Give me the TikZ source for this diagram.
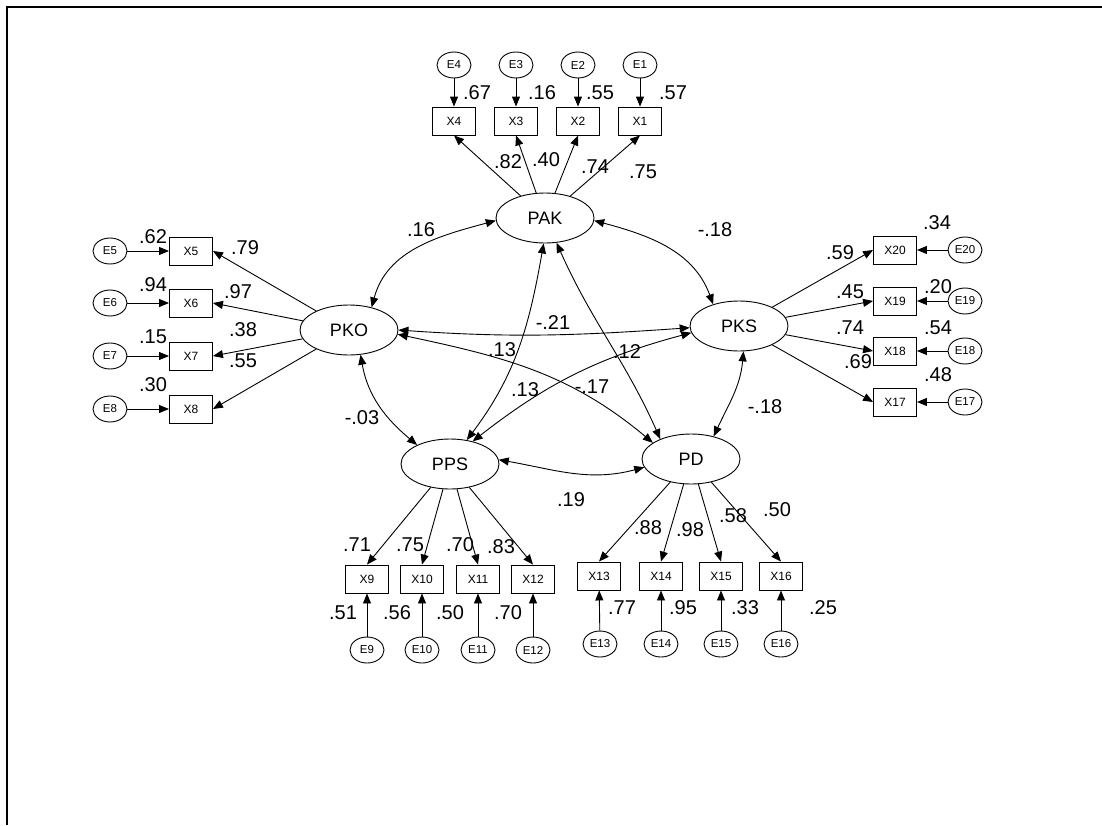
\documentclass[tikz,border=0pt]{standalone}
\usepackage{fontspec}
\setmainfont{Liberation Sans}
\usetikzlibrary{arrows.meta,shapes.geometric}
\begin{document}
\begin{tikzpicture}[x=1pt,y=1pt,
  >={Triangle[length=10pt,width=8pt]},
  lat/.style={draw, ellipse, line width=0.9pt, minimum width=98pt, minimum height=50pt, inner sep=0pt, font=\fontsize{18}{18}\selectfont},
  obs/.style={draw, rectangle, line width=0.9pt, minimum width=43pt, minimum height=28pt, inner sep=0pt, font=\fontsize{12}{12}\selectfont},
  err/.style={draw, ellipse, line width=0.9pt, minimum width=34pt, minimum height=26pt, inner sep=0pt, font=\fontsize{11.5}{12}\selectfont},
  lbl/.style={font=\fontsize{20}{20}\selectfont, inner sep=0pt},
  load/.style={->, line width=0.9pt},
  cov/.style={<->, line width=0.9pt},
  frame/.style={line width=1.5pt}]
\useasboundingbox (0,0) rectangle (1102,-825);
% frame
\coordinate (fa) at (1102,-7);
\coordinate (fb) at (7,-7);
\coordinate (fc) at (7,-825);
\draw[frame] (fa) -- (fb) -- (fc);

% latent variables
\node[lat] (PAK) at (545,-218) {PAK};
\node[lat] (PKO) at (349,-330) {PKO};
\node[lat] (PKS) at (739,-326) {PKS};
\node[lat] (PPS) at (450,-464) {PPS};
\node[lat] (PD)  at (691,-459) {PD};

% PAK indicators
\node[obs] (X4) at (454,-121) {X4};
\node[obs] (X3) at (516,-121) {X3};
\node[obs] (X2) at (578,-121) {X2};
\node[obs] (X1) at (640,-121) {X1};
\node[err] (E4) at (454,-65) {E4};
\node[err] (E3) at (516,-65) {E3};
\node[err] (E2) at (578,-65) {E2};
\node[err] (E1) at (640,-65) {E1};
\foreach \i in {1,2,3,4}{
  \draw[load] (PAK) -- (X\i.south);
  \draw[load] (E\i) -- (X\i);
}
\node[lbl] (l67) at (477,-93) {.67};
\node[lbl] (l16a) at (542,-93) {.16};
\node[lbl] (l55a) at (600,-93) {.55};
\node[lbl] (l57) at (673,-93) {.57};
\node[lbl] (l82) at (508,-162) {.82};
\node[lbl] (l40) at (546,-160) {.40};
\node[lbl] (l74a) at (595,-167) {.74};
\node[lbl] (l75a) at (643,-172) {.75};

% PKO indicators
\node[obs] (X5) at (191,-251) {X5};
\node[obs] (X6) at (191,-303) {X6};
\node[obs] (X7) at (191,-356) {X7};
\node[obs] (X8) at (191,-409) {X8};
\node[err] (E5) at (110,-251) {E5};
\node[err] (E6) at (110,-303) {E6};
\node[err] (E7) at (110,-356) {E7};
\node[err] (E8) at (110,-409) {E8};
\foreach \i in {5,6,7,8}{
  \draw[load] (PKO) -- (X\i.east);
  \draw[load] (E\i) -- (X\i);
}
\node[lbl] (l62) at (153,-237) {.62};
\node[lbl] (l94) at (153,-285) {.94};
\node[lbl] (l15) at (153,-337) {.15};
\node[lbl] (l30) at (153,-385) {.30};
\node[lbl] (l79) at (245,-248) {.79};
\node[lbl] (l97) at (238,-292) {.97};
\node[lbl] (l38) at (243,-330) {.38};
\node[lbl] (l55b) at (243,-361) {.55};

% PKS indicators
\node[obs] (X20) at (895,-250) {X20};
\node[obs] (X19) at (895,-301) {X19};
\node[obs] (X18) at (895,-351) {X18};
\node[obs] (X17) at (895,-402) {X17};
\node[err] (E20) at (965,-250) {E20};
\node[err] (E19) at (965,-301) {E19};
\node[err] (E18) at (965,-351) {E18};
\node[err] (E17) at (965,-402) {E17};
\foreach \i in {17,18,19,20}{
  \draw[load] (PKS) -- (X\i.west);
  \draw[load] (E\i) -- (X\i);
}
\node[lbl] (l34) at (937,-223) {.34};
\node[lbl] (l20) at (938,-287) {.20};
\node[lbl] (l54) at (938,-328) {.54};
\node[lbl] (l48) at (938,-375) {.48};
\node[lbl] (l59) at (840,-253) {.59};
\node[lbl] (l45) at (850,-292) {.45};
\node[lbl] (l74b) at (850,-328) {.74};
\node[lbl] (l69) at (858,-362) {.69};

% PPS indicators
\node[obs] (X9) at (367,-579) {X9};
\node[obs] (X10) at (422,-579) {X10};
\node[obs] (X11) at (478,-579) {X11};
\node[obs] (X12) at (533,-579) {X12};
\node[err] (E9) at (367,-650) {E9};
\node[err] (E10) at (422,-650) {E10};
\node[err] (E11) at (478,-650) {E11};
\node[err] (E12) at (533,-650) {E12};
\foreach \i in {9,10,11,12}{
  \draw[load] (PPS) -- (X\i.north);
  \draw[load] (E\i) -- (X\i);
}
\node[lbl] (l71) at (357,-545) {.71};
\node[lbl] (l75b) at (410,-545) {.75};
\node[lbl] (l70a) at (460,-545) {.70};
\node[lbl] (l83) at (501,-547) {.83};
\node[lbl] (l51) at (343,-613) {.51};
\node[lbl] (l56) at (397,-613) {.56};
\node[lbl] (l50a) at (450,-613) {.50};
\node[lbl] (l70b) at (508,-613) {.70};

% PD indicators
\node[obs] (X13) at (599,-576) {X13};
\node[obs] (X14) at (661,-576) {X14};
\node[obs] (X15) at (721,-576) {X15};
\node[obs] (X16) at (781,-576) {X16};
\node[err] (E13) at (600,-644) {E13};
\node[err] (E14) at (661,-644) {E14};
\node[err] (E15) at (721,-644) {E15};
\node[err] (E16) at (781,-644) {E16};
\foreach \i in {13,14,15,16}{
  \draw[load] (PD) -- (X\i.north);
  \draw[load] (E\i) -- (X\i);
}
\node[lbl] (l88) at (648,-528) {.88};
\node[lbl] (l98) at (690,-530) {.98};
\node[lbl] (l58) at (733,-516) {.58};
\node[lbl] (l50b) at (777,-510) {.50};
\node[lbl] (l77) at (622,-608) {.77};
\node[lbl] (l95) at (683,-608) {.95};
\node[lbl] (l33) at (745,-608) {.33};
\node[lbl] (l25) at (823,-608) {.25};

% covariances
\draw[cov] (PKO.45) to[out=75,in=195] (PAK.183);
\draw[cov] (PAK.-3) to[out=-15,in=110] (PKS.140);
\draw[cov] (PKO.-65) to[out=-80,in=140] (PPS.150);
\draw[cov] (PKS.-80) to[out=-95,in=65] (PD.45);
\draw[cov] (PPS.5) to[out=-10,in=195] (PD.190);
\draw[cov] (PKO.0) to[out=-4,in=184] (PKS.182);
\draw[cov] (PKO.-5) to[out=-12,in=140] (PD.157);
\draw[cov] (PAK.-93) to[out=-100,in=53] (PPS.55);
\draw[cov] (PAK.-65) to[out=-66,in=114] (PD.147);
\draw[cov] (PPS.45) to[out=38,in=195] (PKS.188);

\node[lbl] (c16) at (421,-230) {.16};
\node[lbl] (c18a) at (715,-230) {-.18};
\node[lbl] (c03) at (362,-418) {-.03};
\node[lbl] (c18b) at (765,-407) {-.18};
\node[lbl] (c19) at (571,-500) {.19};
\node[lbl] (c21) at (553,-323) {-.21};
\node[lbl] (c13a) at (502,-350) {.13};
\node[lbl] (c12) at (627,-352) {.12};
\node[lbl] (c13b) at (525,-390) {.13};
\node[lbl] (c17) at (592,-387) {-.17};
\end{tikzpicture}
\end{document}
